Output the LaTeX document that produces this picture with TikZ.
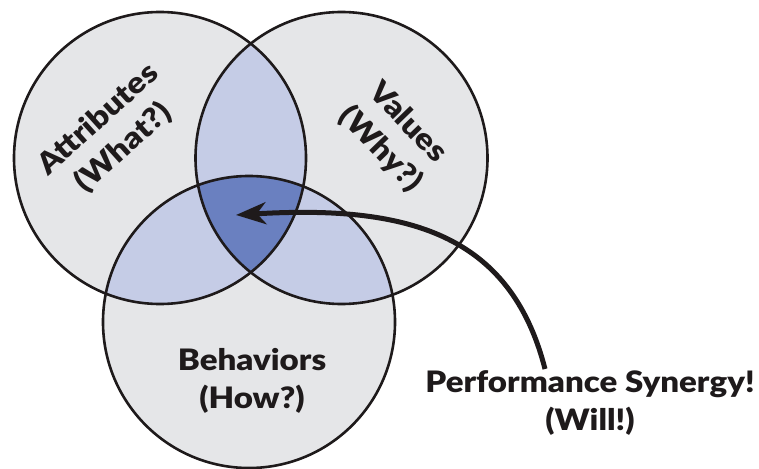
\documentclass[tikz,border=0pt]{standalone}
\usepackage{fontspec}
\setmainfont{Lato}[BoldFont={Lato Black}, BoldFeatures={FakeStretch=1.12}]
\usetikzlibrary{arrows.meta}
\definecolor{greyfill}{RGB}{229,230,232}
\definecolor{lightblue}{RGB}{197,204,230}
\definecolor{darkblue}{RGB}{106,128,192}
\definecolor{ink}{RGB}{30,26,27}
\tikzset{
  setcircle/.style={circle, draw=ink, line width=2.6pt, minimum size=292pt, inner sep=0pt},
  label/.style={font=\fontsize{29.5}{38}\selectfont\bfseries, text=ink, align=center, inner sep=0pt},
}
\begin{document}
\begin{tikzpicture}[x=1pt,y=-1pt]
\useasboundingbox (0,0) rectangle (759,468);
\coordinate (cA) at (160,158);
\coordinate (cV) at (341.5,158);
\coordinate (cB) at (249,322);
\fill[greyfill] (cA) circle (146) (cV) circle (146) (cB) circle (146);
\begin{scope}
  \clip (cA) circle (146);
  \fill[lightblue] (cV) circle (146);
  \fill[lightblue] (cB) circle (146);
\end{scope}
\begin{scope}
  \clip (cV) circle (146);
  \fill[lightblue] (cB) circle (146);
\end{scope}
\begin{scope}
  \clip (cA) circle (146);
  \clip (cV) circle (146);
  \fill[darkblue] (cB) circle (146);
\end{scope}
\node[setcircle] (A) at (cA) {};
\node[setcircle] (V) at (cV) {};
\node[setcircle] (B) at (cB) {};
\node[label, rotate=42] (tA) at (111,134) {Attributes\\(What?)};
\node[label, rotate=-46] (tV) at (394,136) {Values\\(Why?)};
\node[label] (tB) at (252,381) {Behaviors\\(How?)};
\node[label] (tS) at (590,403) {Performance Synergy!\\(Will!)};
\coordinate (tip) at (236,215);
\coordinate (st) at (545,369);
\draw[ink, line width=5pt, -{Stealth[length=30pt,width=22pt,inset=9pt]}]
  (st) .. controls (510,232) and (405,205) .. (tip);
\end{tikzpicture}
\end{document}
